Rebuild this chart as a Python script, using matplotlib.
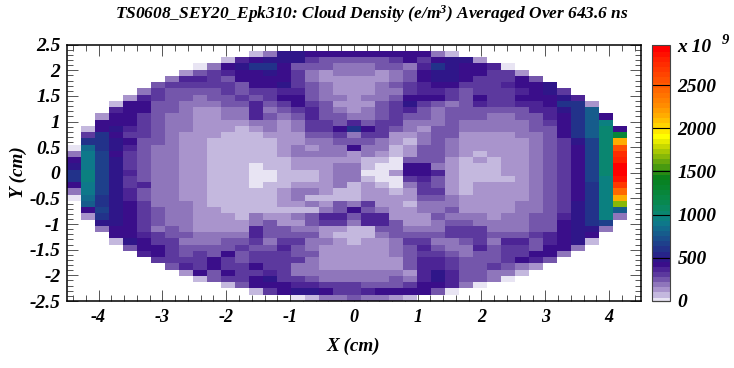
import numpy as np
import matplotlib
matplotlib.use('Agg')
import matplotlib.pyplot as plt
from matplotlib.colors import ListedColormap, BoundaryNorm

# cloud density in units of 1e9 e/m^3, rows top (y=+2.5) to bottom, 0 = no data
r00 = [0]*41
r01 = [0]*13 + [90,210,510,510,450,450,450,450,450,450,450,450,450,210,90]
r02 = [0]*11 + [90,390,450,510,510,510,330,270,270,270,270,270,330,450,330,450,510,510,150]
r03 = [0]*9 + [30,210,450,510,600,600,450,270,270,270,210,210,210,270,270,210,390,600,510,450,450,390,30]
r04 = [0]*8 + [150,270,330,390,450,450,510,450,330,210,150,210,210,210,150,210,270,450,510,510,450,450,330,330,150]
r05 = [0]*7 + [210,390,390,330,270,450,450,450,450,330,210,150,150,150,150,150,210,270,450,510,510,450,330,330,330,450,270]
r06 = [0]*6 + [270,330,330,330,330,330,270,450,450,510,330,270,210,150,150,150,210,270,330,390,450,450,330,330,330,390,450,450,510]
r07 = [0]*5 + [210,330,270,270,270,270,330,270,330,330,390,390,270,210,150,150,150,210,210,330,390,390,330,270,330,330,330,390,450,510,330]
r08 = [0]*4 + [150,390,330,270,270,210,270,270,330,270,330,450,450,270,210,210,150,210,210,270,450,450,450,330,270,450,330,330,450,450,450,510,390]
r09 = [0]*3 + [60,450,450,270,270,210,210,210,270,270,390,270,330,450,330,270,150,150,150,270,330,510,330,270,210,270,390,330,330,390,390,450,600,600,150]
r10 = [0]*3 + [390,450,450,270,270,210,150,150,210,210,390,210,270,330,390,270,210,150,210,270,330,390,270,210,270,270,270,270,270,270,390,390,510,600,800]
r11 = [0]*2 + [150,450,450,330,270,210,210,150,150,210,210,390,240,210,270,390,270,270,210,210,270,330,270,270,210,270,270,270,210,210,270,270,390,450,600,800,450]
r12 = [0]*2 + [450,450,450,330,270,210,210,150,150,150,150,210,210,150,210,330,330,270,390,270,330,330,210,210,210,270,210,210,210,210,210,270,330,450,600,800,1000]
r13 = [0] + [90,450,510,390,330,270,210,210,150,150,150,90,150,210,150,210,330,330,450,600,450,330,270,210,150,270,270,210,210,210,210,210,270,270,450,600,800,1050,450]
r14 = [0] + [330,600,450,330,330,270,210,150,150,150,90,90,90,150,150,150,270,270,330,210,330,330,150,150,210,270,270,150,150,150,150,210,210,270,450,600,800,1050,1300]
r15 = [0] + [650,600,510,450,270,270,210,150,150,90,90,90,90,90,150,150,210,210,270,270,270,210,150,90,210,270,210,150,150,150,150,150,210,270,330,510,700,1050,2170]
r16 = [30,880,600,510,390,270,210,210,150,150,90,90,90,90,90,150,210,150,210,210,450,210,210,90,150,270,270,210,150,150,150,150,150,210,270,330,450,700,1050,2600]
r17 = [210,930,700,450,330,270,210,210,150,150,90,90,90,90,90,150,210,210,210,210,150,210,150,90,150,270,270,210,150,90,150,150,150,210,270,330,450,700,1050,2750]
r18 = [450,930,700,510,330,270,210,210,150,150,90,90,90,90,90,90,150,150,150,150,150,90,90,30,270,270,270,150,90,150,90,150,150,210,270,330,450,700,1050,2850]
r19 = [510,930,700,510,330,270,210,210,150,150,90,90,90,30,90,90,150,150,150,210,210,90,30,30,450,450,210,150,90,90,90,150,150,210,270,330,450,700,1050,2950]
r20 = [600,980,700,510,390,270,210,210,150,150,90,90,90,30,30,90,90,90,150,210,210,30,30,150,450,450,390,150,90,90,90,150,150,210,270,330,450,700,1050,2950]
r21 = [600,980,700,510,330,270,210,210,150,150,90,90,90,30,30,90,90,90,150,210,210,90,30,30,330,390,270,150,90,90,90,90,150,210,270,330,450,700,980,2900]
r22 = [450,930,700,510,330,360,210,210,150,150,90,90,90,30,90,90,150,150,150,210,90,150,90,30,210,330,270,150,90,150,150,150,150,210,270,330,450,600,980,2700]
r23 = [210,930,700,510,390,270,210,210,150,150,90,90,90,90,90,150,210,210,150,90,90,150,150,90,150,330,330,150,90,150,150,150,150,210,270,330,450,600,980,2450]
r24 = [30,880,600,510,390,270,210,210,150,150,90,90,90,90,90,150,210,90,90,90,90,150,150,150,150,270,270,210,150,150,150,150,150,210,270,330,450,600,980,2170]
r25 = [0] + [800,600,510,450,330,210,210,210,150,90,90,90,90,90,150,150,210,150,270,210,330,150,150,90,210,210,210,150,150,150,150,210,210,270,330,510,600,980,1700]
r26 = [0] + [450,700,510,450,330,270,210,210,150,150,90,90,90,90,90,90,90,210,270,450,270,210,150,150,210,210,270,150,150,150,150,210,210,270,330,510,600,980,800]
r27 = [0] + [150,600,510,450,330,270,210,210,150,150,150,90,210,150,150,210,270,390,390,270,390,390,150,150,150,270,210,210,210,150,210,210,270,270,390,510,600,980,210]
r28 = [0]*2 + [510,510,450,330,270,210,210,150,150,150,150,210,270,150,150,270,330,330,210,390,390,270,150,150,210,270,270,210,210,210,210,270,270,450,510,600,700]
r29 = [0]*2 + [210,450,450,330,210,270,210,150,150,150,150,390,270,270,210,210,150,150,90,90,270,270,210,210,210,330,330,330,210,210,210,270,270,450,510,510,210]
r30 = [0]*3 + [450,450,390,330,270,270,210,210,210,210,390,270,270,270,270,150,90,90,90,210,270,270,270,270,330,330,330,270,270,270,330,390,450,510,450]
r31 = [0]*3 + [90,510,450,330,330,210,210,210,270,270,330,210,330,330,210,210,150,90,150,150,210,330,330,210,210,270,330,210,390,390,270,390,450,510,90]
r32 = [0]*4 + [270,450,450,330,270,270,270,270,330,270,270,390,270,210,150,150,150,150,150,210,270,390,270,210,210,390,270,330,330,270,450,450,210]
r33 = [0]*5 + [390,450,330,270,330,270,450,270,330,330,330,270,270,150,150,150,150,150,210,270,330,330,270,210,270,270,330,330,450,450,210]
r34 = [0]*6 + [330,330,330,330,450,330,270,330,330,330,330,210,150,150,150,150,150,150,270,390,390,330,270,270,270,330,450,390,270]
r35 = [0]*7 + [270,390,330,450,330,330,450,330,330,210,210,150,150,150,150,150,150,270,390,390,330,270,270,330,270,210,150]
r36 = [0]*8 + [150,450,270,450,330,330,390,330,210,210,210,210,210,210,210,210,150,390,510,390,270,270,210,210,90]
r37 = [0]*9 + [60,270,330,330,450,510,330,330,270,210,210,210,210,210,270,210,390,510,390,270,270,210,30]
r38 = [0]*11 + [90,270,450,450,450,390,390,330,330,330,270,270,270,330,450,450,390,210,30]
r39 = [0]*13 + [90,330,450,510,510,450,330,330,390,450,450,450,450,270,30]
r40 = [0]*16 + [30,90,210,210,270,210,210,150,90]

rows = [r00,r01,r02,r03,r04,r05,r06,r07,r08,r09,r10,r11,r12,r13,r14,r15,r16,r17,r18,r19,r20,
        r21,r22,r23,r24,r25,r26,r27,r28,r29,r30,r31,r32,r33,r34,r35,r36,r37,r38,r39,r40]
rows = [r + [0]*(41-len(r)) for r in rows]

x_ticks = [-4,-3,-2,-1,0,1,2,3,4]
x_labels = ['-4','-3','-2','-1','0','1','2','3','4']
y_ticks = [-2.5,-2,-1.5,-1,-0.5,0,0.5,1,1.5,2,2.5]
y_labels = ['-2.5','-2','-1.5','-1','-0.5','0','0.5','1','1.5','2','2.5']
z_ticks = [0,500,1000,1500,2000,2500]
z_max = 2970

palette = ['#e8e4f3','#c4b8de','#a994cc','#8f76bb','#7456ab','#5c399e','#4c2495','#3a0e8a','#2f1689','#27248a',
           '#22328a','#1e408b','#1a4e8c','#165c8c','#126a8c','#0e788a','#0b8080','#0a8670','#098860','#088850',
           '#088846','#08863a','#08842e','#088224','#0a801a','#288a14','#489a10','#68a80c','#88b808','#a8c804',
           '#c8d800','#e8ec00','#ffff00','#ffe800','#ffd400','#ffc000','#ffac00','#ff9c00','#ff8c00','#ff8000',
           '#ff7400','#ff6800','#ff5c00','#ff5000','#ff4400','#ff3800','#ff2c00','#ff2000','#ff1000','#ff0000']

plt.rcParams['font.family'] = 'Liberation Serif'
plt.rcParams['font.weight'] = 'bold'
plt.rcParams['font.style'] = 'italic'
plt.rcParams['mathtext.default'] = 'regular'

W, H = 734., 368.
fig = plt.figure(figsize=(W/100, H/100), dpi=100)
ax = fig.add_axes([66.7/W, 1-301/H, (641-66.7)/W, (301-44.7)/H])
cax = fig.add_axes([652/W, 1-300.7/H, 18/W, 256/H])

density = np.ma.masked_equal(np.array(rows[::-1], dtype=float), 0)
xedges = np.linspace(-4.5, 4.5, 42)
yedges = np.linspace(-2.5, 2.5, 42)
bounds = np.linspace(0, z_max, 51)
cmap = ListedColormap(palette)
cmap.set_bad((1, 1, 1, 0))
norm = BoundaryNorm(bounds, cmap.N)
mesh = ax.pcolormesh(xedges, yedges, density, cmap=cmap, norm=norm, linewidth=0, rasterized=True)

ax.set_xlim(-4.5, 4.5)
ax.set_ylim(-2.5, 2.5)
ax.set_axisbelow(True)
ax.set_xticks(x_ticks)
ax.set_xticklabels(x_labels, fontsize=13)
ax.set_yticks(y_ticks)
ax.set_yticklabels(y_labels, fontsize=14)
ax.minorticks_on()
ax.xaxis.set_minor_locator(matplotlib.ticker.MultipleLocator(0.2))
ax.yaxis.set_minor_locator(matplotlib.ticker.MultipleLocator(0.1))
ax.tick_params(which='major', direction='in', top=True, right=True, length=8, width=0.7, color='#555555')
ax.tick_params(which='minor', direction='in', top=True, right=True, length=4, width=0.7, color='#555555')
ax.tick_params(axis='x', which='major', pad=6)
ax.tick_params(axis='y', which='major', pad=4.5)
for s in ax.spines.values():
    s.set_linewidth(1.1)

cb = fig.colorbar(mesh, cax=cax, boundaries=bounds, spacing='proportional', ticks=z_ticks)
cb.solids.set_edgecolor('face')
cb.ax.minorticks_off()
cb.ax.set_yticklabels([str(t) for t in z_ticks], fontsize=14)
cb.ax.tick_params(direction='in', length=13, width=0.8, color='black', pad=5.5)
cb.outline.set_linewidth(0.8)
cb.outline.set_edgecolor('#444444')

fig.text(677/W, 1-47/H, 'x 10', fontsize=14, ha='left', va='center')
fig.text(722/W, 1-40/H, '9', fontsize=10.5, ha='left', va='center')
fig.text(372/W, 1-14/H, 'TS0608_SEY20_Epk310: Cloud Density (e/m$^{3}$) Averaged Over 643.6 ns',
         fontsize=12.55, ha='center', va='center')
fig.text(353/W, 1-346/H, 'X (cm)', fontsize=13.8, ha='center', va='center')
fig.text(18/W, 1-172/H, 'Y (cm)', fontsize=13.8, ha='center', va='center', rotation=90)

plt.savefig('out.png', dpi=100)
